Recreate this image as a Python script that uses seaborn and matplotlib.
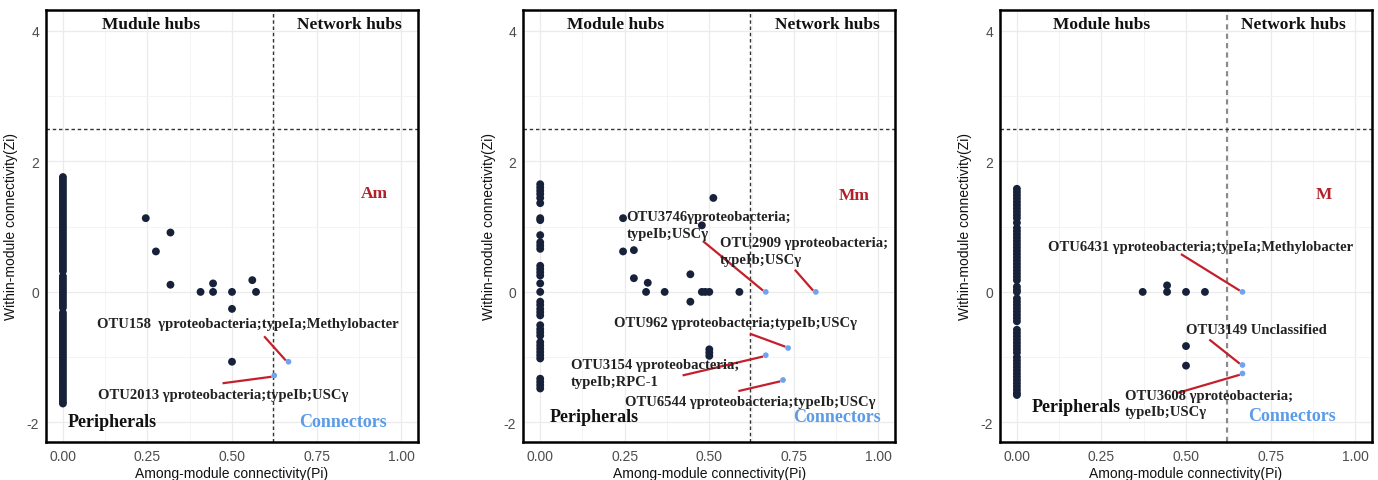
import numpy as np
import pandas as pd
import matplotlib
matplotlib.use("Agg")
import matplotlib.pyplot as plt
import seaborn as sns

# ---------------- Am network ----------------
am_column_zi = [1.76, 1.72, 1.68, 1.64, 1.60, 1.56, 1.52, 1.48, 1.44, 1.40, 1.36, 1.32,
                1.28, 1.24, 1.20, 1.16, 1.12, 1.08, 1.04, 1.00, 0.96, 0.92, 0.88, 0.84,
                0.80, 0.76, 0.72, 0.68, 0.64, 0.60, 0.56, 0.52, 0.48, 0.44, 0.40, 0.36,
                0.32, 0.24, 0.20, 0.16, 0.12, 0.08, 0.04, 0.00, -0.04, -0.08, -0.12,
                -0.16, -0.20, -0.24, -0.32, -0.36, -0.40, -0.44, -0.48, -0.52, -0.56,
                -0.60, -0.64, -0.68, -0.72, -0.76, -0.80, -0.84, -0.88, -0.92, -0.96,
                -1.00, -1.04, -1.08, -1.12, -1.16, -1.20, -1.24, -1.28, -1.32, -1.36,
                -1.40, -1.44, -1.48, -1.52, -1.56, -1.60, -1.64, -1.68, -1.71]
am_pi = [0.245, 0.318, 0.275, 0.318, 0.407, 0.444, 0.444, 0.500, 0.500, 0.560, 0.571, 0.500]
am_zi = [1.13, 0.91, 0.62, 0.11, 0.00, 0.13, 0.00, 0.00, -0.26, 0.18, 0.00, -1.07]
am_conn_pi = [0.667, 0.625]
am_conn_zi = [-1.07, -1.28]
am_conn_names = ["OTU158  γproteobacteria;typeIa;Methylobacter",
                 "OTU2013 γproteobacteria;typeIb;USCγ"]

# ---------------- Mm network ----------------
mm_column_zi = [1.65, 1.60, 1.55, 1.50, 1.44, 1.36, 1.13, 1.10, 0.87, 0.76, 0.71, 0.66,
                0.40, 0.35, 0.30, 0.25, 0.13, 0.00, -0.15, -0.20, -0.26, -0.31, -0.36,
                -0.51, -0.57, -0.62, -0.67, -0.77, -0.82, -0.87, -0.92, -0.97, -1.02,
                -1.33, -1.38, -1.43, -1.48]
mm_pi = [0.245, 0.512, 0.478, 0.245, 0.277, 0.277, 0.318, 0.313, 0.368, 0.444, 0.444,
         0.478, 0.488, 0.500, 0.589, 0.500, 0.500, 0.500]
mm_zi = [1.13, 1.44, 1.02, 0.62, 0.64, 0.21, 0.14, 0.00, 0.00, 0.27, -0.15,
         0.00, 0.00, 0.00, 0.00, -0.88, -0.93, -0.98]
mm_conn_pi = [0.667, 0.815, 0.733, 0.667, 0.718]
mm_conn_zi = [0.00, 0.00, -0.86, -0.97, -1.35]
mm_conn_names = ["OTU3746γproteobacteria;\ntypeIb;USCγ",
                 "OTU2909 γproteobacteria;\ntypeIb;USCγ",
                 "OTU962 γproteobacteria;typeIb;USCγ",
                 "OTU3154 γproteobacteria;\ntypeIb;RPC-1",
                 "OTU6544 γproteobacteria;typeIb;USCγ"]

# ---------------- M network ----------------
m_column_zi = [1.58, 1.53, 1.48, 1.43, 1.38, 1.33, 1.28, 1.23, 1.18, 1.13, 1.06, 0.98,
               0.93, 0.88, 0.83, 0.78, 0.73, 0.68, 0.63, 0.58, 0.53, 0.48, 0.43, 0.38,
               0.33, 0.28, 0.23, 0.18, 0.08, 0.03, 0.00, -0.10, -0.15, -0.20, -0.25,
               -0.30, -0.35, -0.40, -0.45, -0.58, -0.63, -0.68, -0.73, -0.78, -0.83,
               -0.88, -0.93, -1.00, -1.05, -1.10, -1.15, -1.20, -1.25, -1.30, -1.35,
               -1.40, -1.45, -1.50, -1.55, -1.58]
m_pi = [0.372, 0.444, 0.444, 0.500, 0.556, 0.500, 0.500]
m_zi = [0.00, 0.10, 0.00, 0.00, 0.00, -0.83, -1.13]
m_conn_pi = [0.667, 0.667, 0.667]
m_conn_zi = [0.00, -1.12, -1.25]
m_conn_names = ["OTU6431 γproteobacteria;typeIa;Methylobacter",
                "OTU3149 Unclassified",
                "OTU3608 γproteobacteria;\ntypeIb;USCγ"]

NODE = "#17223a"
CONN = "#6fa3f0"
LINK = "#c4202b"
TAG = "#b3202a"
CONN_TXT = "#5b9be8"
SERIF = ["Liberation Serif", "DejaVu Serif"]
SANS = ["Liberation Sans", "DejaVu Sans"]
LINE_STEP = 12.2  # points between the lines of a wrapped label

sns.set_style("white")
plt.rcParams["font.family"] = SANS
plt.rcParams["axes.unicode_minus"] = False


def frame(column_zi, pi, zi, conn_pi, conn_zi):
    rows = [(0.0, z, "node") for z in column_zi]
    rows += [(p, z, "node") for p, z in zip(pi, zi)]
    rows += [(p, z, "connector") for p, z in zip(conn_pi, conn_zi)]
    return pd.DataFrame(rows, columns=["Pi", "Zi", "role"])


panels = [
    dict(df=frame(am_column_zi, am_pi, am_zi, am_conn_pi, am_conn_zi), tag="Am",
         hubs="Mudule hubs", names=am_conn_names, cpi=am_conn_pi, czi=am_conn_zi,
         left=46, hub_x=0.26, net_x=0.848, per=(0.147, -1.98), con=(0.828, -1.98),
         tag_xy=(0.922, 1.52), vcol="#333333",
         labels=[dict(xy=(0.548, -0.49), ha="center", start=(0.595, -0.68)),
                 dict(xy=(0.475, -1.57), ha="center", start=(0.472, -1.40))]),
    dict(df=frame(mm_column_zi, mm_pi, mm_zi, mm_conn_pi, mm_conn_zi), tag="Mm",
         hubs="Module hubs", names=mm_conn_names, cpi=mm_conn_pi, czi=mm_conn_zi,
         left=523.3, hub_x=0.223, net_x=0.848, per=(0.159, -1.91), con=(0.878, -1.91),
         tag_xy=(0.927, 1.49), vcol="#333333",
         labels=[dict(xy=(0.255, 1.03), ha="left", start=(0.481, 0.78)),
                 dict(xy=(0.531, 0.62), ha="left", start=(0.753, 0.34)),
                 dict(xy=(0.578, -0.47), ha="center", start=(0.620, -0.64)),
                 dict(xy=(0.090, -1.24), ha="left", start=(0.421, -1.28)),
                 dict(xy=(0.622, -1.68), ha="center", start=(0.586, -1.52))]),
    dict(df=frame(m_column_zi, m_pi, m_zi, m_conn_pi, m_conn_zi), tag="M",
         hubs="Module hubs", names=m_conn_names, cpi=m_conn_pi, czi=m_conn_zi,
         left=1000, hub_x=0.25, net_x=0.818, per=(0.175, -1.76), con=(0.812, -1.89),
         tag_xy=(0.907, 1.50), vcol="#8a8a8a",
         labels=[dict(xy=(0.542, 0.70), ha="center", start=(0.485, 0.58)),
                 dict(xy=(0.707, -0.58), ha="center", start=(0.569, -0.73)),
                 dict(xy=(0.319, -1.71), ha="left", start=(0.474, -1.55))]),
]

W, H = 1378, 481
fig = plt.figure(figsize=(W / 100, H / 100), dpi=100)

for p in panels:
    ax = fig.add_axes([p["left"] / W, 1 - 443 / H, 372 / W, 432 / H])
    ax.set_xlim(-0.05, 1.05)
    ax.set_ylim(-2.3, 4.32)
    ax.set_xticks([0, 0.25, 0.5, 0.75, 1.0])
    ax.set_xticklabels(["0.00", "0.25", "0.50", "0.75", "1.00"])
    ax.set_yticks([-2, 0, 2, 4])
    ax.set_xticks([0.125, 0.375, 0.625, 0.875], minor=True)
    ax.set_yticks([-1, 1, 3], minor=True)
    ax.set_axisbelow(True)
    ax.grid(which="major", color="#ebebeb", lw=0.9)
    ax.grid(which="minor", color="#f3f3f3", lw=0.6)
    ax.tick_params(which="major", direction="out", length=3, width=0.8,
                   color="#333333", labelcolor="#4d4d4d", labelsize=10, pad=2)
    ax.tick_params(which="minor", length=0)
    for s in ax.spines.values():
        s.set_visible(True)
        s.set_color("black")
        s.set_linewidth(1.8)

    ax.axvline(0.62, color=p["vcol"], lw=1.0 if p["vcol"] == "#333333" else 1.5,
               ls=(0, (2.5, 2)), zorder=1)
    ax.axhline(2.5, color="#333333", lw=1.0, ls=(0, (2.5, 2)), zorder=1)

    sns.scatterplot(data=p["df"], x="Pi", y="Zi", hue="role", size="role",
                    palette={"node": NODE, "connector": CONN},
                    sizes={"node": 32, "connector": 17},
                    linewidth=0, legend=False, ax=ax, zorder=3)

    # connector annotations: a red leader line and a (possibly wrapped) label
    for name, lab, cx, cy in zip(p["names"], p["labels"], p["cpi"], p["czi"]):
        sx, sy = lab["start"]
        ax.plot([sx, cx - 0.008], [sy, cy + 0.02 * np.sign(sy - cy)],
                color=LINK, lw=1.6, zorder=2, solid_capstyle="butt")
        lines = name.split("\n")
        n = len(lines)
        for i, line in enumerate(lines):
            dy = ((n - 1) / 2 - i) * LINE_STEP
            ax.annotate(line, xy=lab["xy"], xytext=(0, dy), textcoords="offset points",
                        ha=lab["ha"], va="center", family=SERIF, fontweight="bold",
                        fontsize=10.5, color="#222222", zorder=4)

    ax.text(p["hub_x"], 4.1, p["hubs"], ha="center", va="center", family=SERIF,
            fontweight="bold", fontsize=12.5, color="#111111")
    ax.text(p["net_x"], 4.1, "Network hubs", ha="center", va="center", family=SERIF,
            fontweight="bold", fontsize=12.5, color="#111111")
    ax.text(p["per"][0], p["per"][1], "Peripherals", ha="center", va="center",
            family=SERIF, fontweight="bold", fontsize=13, color="#111111")
    ax.text(p["con"][0], p["con"][1], "Connectors", ha="center", va="center",
            family=SERIF, fontweight="bold", fontsize=13, color=CONN_TXT)
    ax.text(p["tag_xy"][0], p["tag_xy"][1], p["tag"], ha="center", va="center",
            family=SERIF, fontweight="bold", fontsize=12.5, color=TAG)

    ax.set_xlabel("Among-module connectivity(Pi)", fontsize=10, color="#111111", labelpad=2)
    ax.set_ylabel("Within-module connectivity(Zi)", fontsize=10, color="#111111", labelpad=6)

fig.savefig("out.png", dpi=100, facecolor="white")
